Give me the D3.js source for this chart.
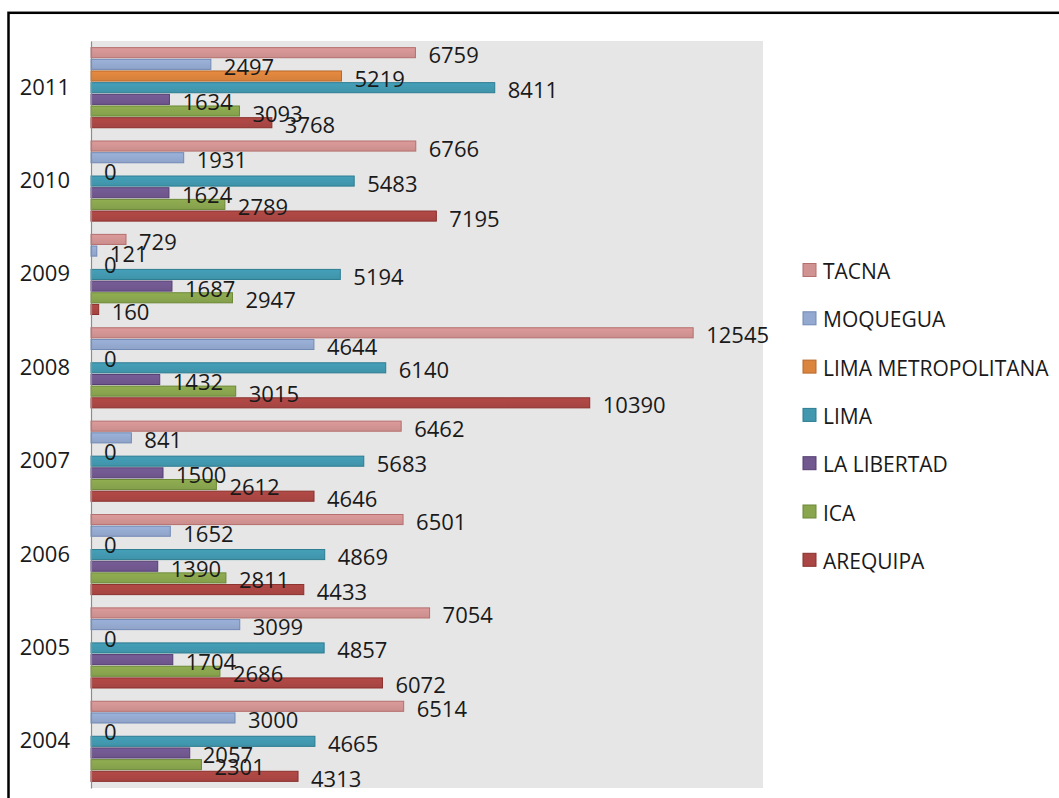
<!DOCTYPE html>
<html>
<head>
<meta charset="utf-8">
<script src="https://cdn.jsdelivr.net/npm/d3@7"></script>
<style>
  html, body { margin: 0; padding: 0; background: #fff; }
  svg { display: block; }
  text { font-family: "Open Sans", "Noto Sans", sans-serif; fill: #1a1a1a; }
</style>
</head>
<body>
<svg id="chart" width="1059" height="798"></svg>
<script>
// ---- data ----
const years = ["2011", "2010", "2009", "2008", "2007", "2006", "2005", "2004"];
const seriesNames = ["TACNA", "MOQUEGUA", "LIMA METROPOLITANA", "LIMA", "LA LIBERTAD", "ICA", "AREQUIPA"];
const tacna      = [6759, 6766, 729, 12545, 6462, 6501, 7054, 6514];
const moquegua   = [2497, 1931, 121, 4644, 841, 1652, 3099, 3000];
const limaMetro  = [5219, 0, 0, 0, 0, 0, 0, 0];
const lima       = [8411, 5483, 5194, 6140, 5683, 4869, 4857, 4665];
const laLibertad = [1634, 1624, 1687, 1432, 1500, 1390, 1704, 2057];
const ica        = [3093, 2789, 2947, 3015, 2612, 2811, 2686, 2301];
const arequipa   = [3768, 7195, 160, 10390, 4646, 4433, 6072, 4313];
const xDomainMax = 14000;

const seriesValues = [tacna, moquegua, limaMetro, lima, laLibertad, ica, arequipa];
const fills   = ["#D19392", "#94A9CF", "#DB843D", "#4198AF", "#71588F", "#89A54E", "#AA4643"];
const strokes = ["#B56F6E", "#7189B5", "#B8692A", "#2D7C91", "#553F72", "#6C8836", "#8A302D"];

const svg = d3.select("#chart");

// outer frame
svg.append("rect")
  .attr("x", 8.5).attr("y", 12.8)
  .attr("width", 1200).attr("height", 1000)
  .attr("fill", "none").attr("stroke", "#000").attr("stroke-width", 2.5);

const plot = { left: 91, right: 763, top: 41, bottom: 788 };

// plot background
svg.append("rect")
  .attr("x", plot.left).attr("y", plot.top)
  .attr("width", plot.right - plot.left).attr("height", plot.bottom - plot.top)
  .attr("fill", "#E6E6E6");

const x = d3.scaleLinear().domain([0, xDomainMax]).range([plot.left, plot.right]);
const y0 = d3.scaleBand().domain(years).range([plot.top, plot.bottom]).paddingInner(0).paddingOuter(0);
const y1 = d3.scaleBand().domain(seriesNames).range([0, y0.bandwidth()]).paddingInner(0).paddingOuter(0.5);

const barH = y1.bandwidth() - 1.6;

// gradients
const defs = svg.append("defs");
seriesNames.forEach((s, i) => {
  const g = defs.append("linearGradient").attr("id", "g" + i)
    .attr("x1", 0).attr("y1", 0).attr("x2", 0).attr("y2", 1);
  const c = d3.color(fills[i]);
  g.append("stop").attr("offset", "0%").attr("stop-color", c.brighter(0.15));
  g.append("stop").attr("offset", "100%").attr("stop-color", c.darker(0.1));
});

// bars
const groups = svg.append("g").selectAll("g")
  .data(years)
  .join("g")
  .attr("transform", d => `translate(0,${y0(d)})`);

groups.each(function(year, yi) {
  const g = d3.select(this);
  seriesNames.forEach((s, si) => {
    const v = seriesValues[si][yi];
    const cy = y1(s) + y1.bandwidth() / 2;
    if (v > 0) {
      g.append("rect")
        .attr("x", x(0))
        .attr("y", cy - barH / 2)
        .attr("width", x(v) - x(0))
        .attr("height", barH)
        .attr("fill", `url(#g${si})`)
        .attr("stroke", strokes[si])
        .attr("stroke-width", 1);
    }
  });
});

// labels (drawn after bars so they overlap on top)
groups.each(function(year, yi) {
  const g = d3.select(this);
  seriesNames.forEach((s, si) => {
    const v = seriesValues[si][yi];
    const cy = y1(s) + y1.bandwidth() / 2;
    g.append("text")
      .attr("x", x(v) + 13)
      .attr("y", cy + 1.5)
      .attr("dominant-baseline", "central")
      .attr("font-size", 22)
      .text(v);
  });
});

// category axis
const axis = d3.axisLeft(y0).tickSize(0).tickSizeOuter(0).tickPadding(21);
const ax = svg.append("g").attr("transform", `translate(${plot.left},0)`).call(axis);
ax.select(".domain").attr("stroke", "#8C8C8C").attr("stroke-width", 1.2);
ax.selectAll("text").attr("font-size", 22).attr("fill", "#1a1a1a")
  .style("font-family", '"Open Sans", "Noto Sans", sans-serif');

// legend
const legend = svg.append("g");
const legendTop = 270, legendStep = 48.3;
seriesNames.forEach((s, i) => {
  const ly = legendTop + i * legendStep;
  legend.append("rect")
    .attr("x", 803).attr("y", ly - 6.5)
    .attr("width", 13).attr("height", 13)
    .attr("fill", fills[i]).attr("stroke", strokes[i]).attr("stroke-width", 1);
  legend.append("text")
    .attr("x", 823).attr("y", ly + 1)
    .attr("dominant-baseline", "central")
    .attr("font-size", 21)
    .text(s);
});
</script>
</body>
</html>
